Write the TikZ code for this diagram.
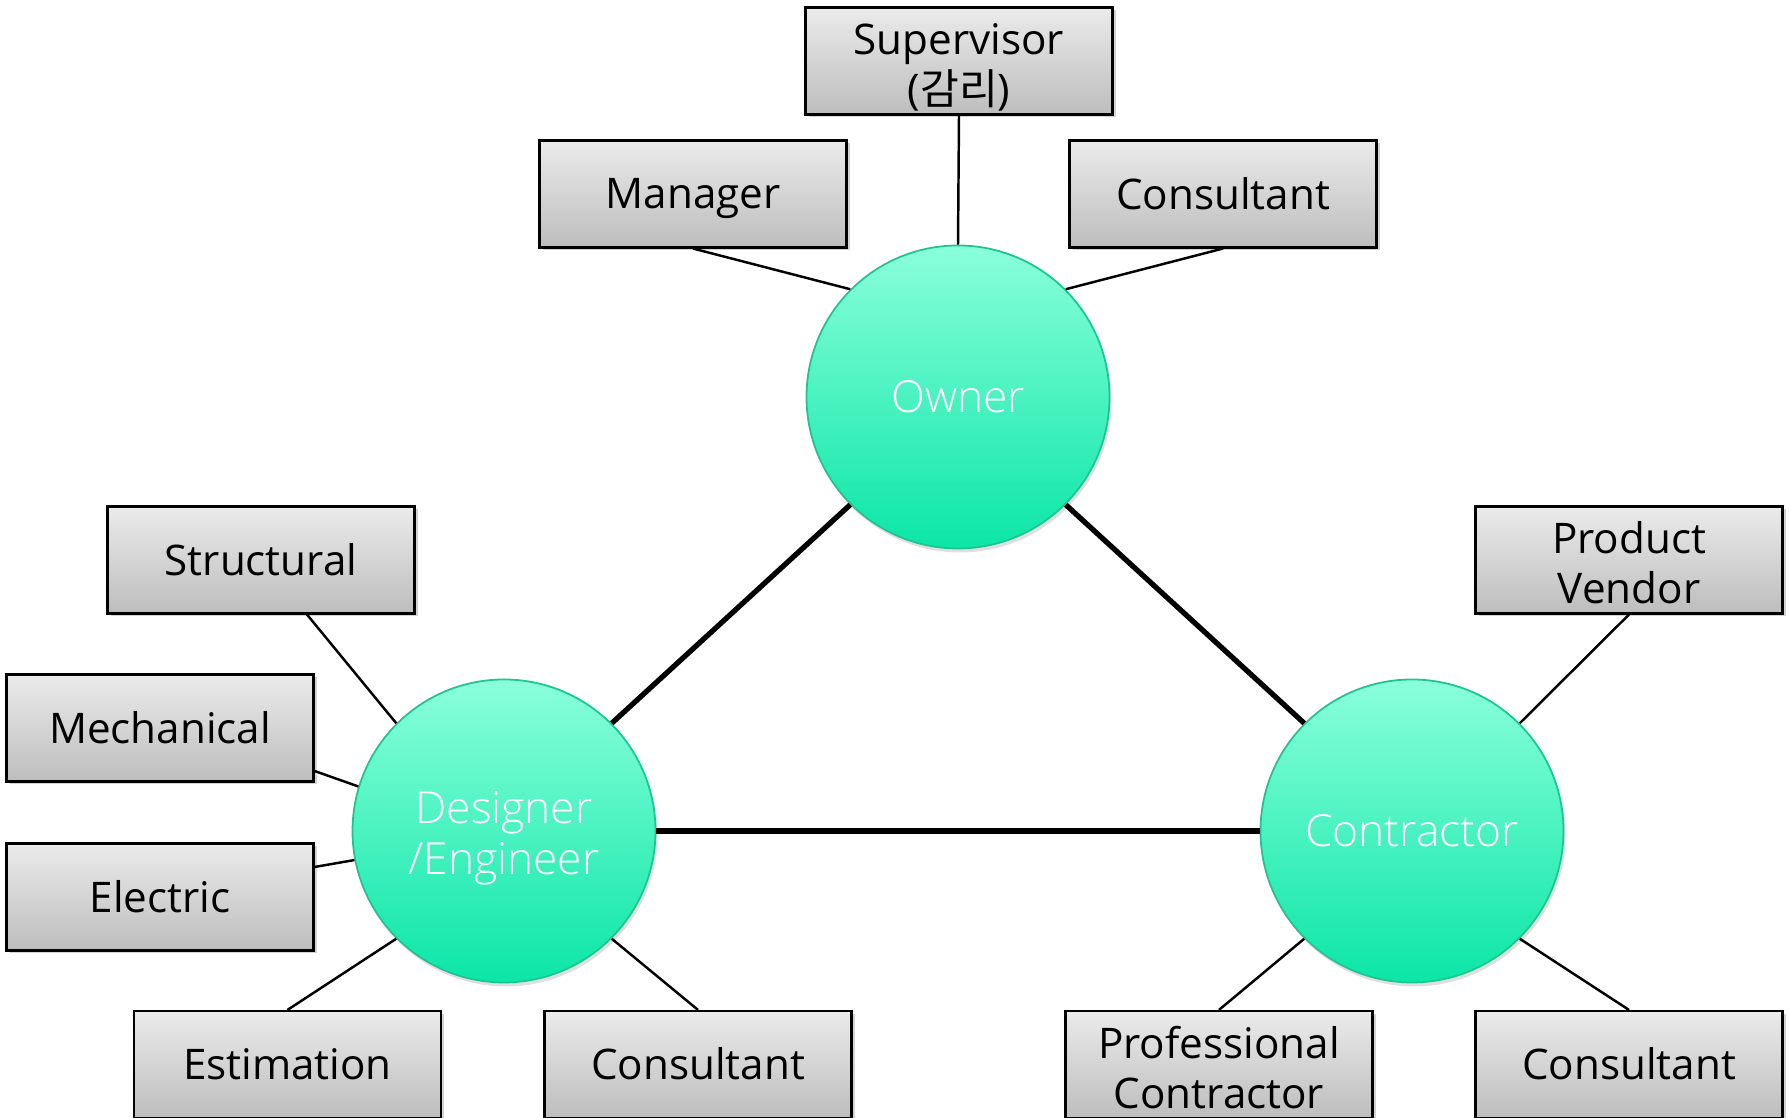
\documentclass[tikz,border=0pt]{standalone}
\usepackage{fontspec}
\setmainfont{Open Sans}
\newfontfamily\krfont{Noto Sans CJK KR}
\newfontfamily\lightfont{Open Sans Light}
\usetikzlibrary{shadows}
\definecolor{boxtop}{HTML}{EBEBEB}
\definecolor{boxbot}{HTML}{BDBDBD}
\definecolor{balltop}{HTML}{8AFFDA}
\definecolor{ballbot}{HTML}{0BE6A6}
\definecolor{ballrim}{HTML}{1FC493}
\newcommand\capstrut{\rule[-2.8pt]{0pt}{14.2pt}}
\newcommand\tallstrut{\rule{0pt}{13.4pt}}

\begin{document}
\begin{tikzpicture}[
  role/.style={draw=black, line width=0.6pt, top color=boxtop, bottom color=boxbot,
    minimum width=3.07cm, minimum height=1.07cm, inner xsep=0pt, inner ysep=-1pt, align=center,
    font=\fontsize{12}{14.2}\selectfont,
    execute at begin node=\capstrut, execute at end node=\capstrut,
    drop shadow={opacity=0.35, shadow xshift=0.03cm, shadow yshift=-0.03cm}},
  party/.style={circle, draw=ballrim, line width=0.5pt, top color=balltop, bottom color=ballbot,
    minimum size=3.03cm, inner sep=0pt, align=center, text=white,
    font=\lightfont\fontsize{12.6}{14.4}\selectfont,
    execute at begin node=\capstrut, execute at end node=\capstrut,
    drop shadow={opacity=0.25, shadow xshift=0.02cm, shadow yshift=-0.04cm}},
  tie/.style={line width=0.7pt},
  bond/.style={line width=1.5pt}]
\useasboundingbox (0,0) rectangle (17.89,11.18);
\node[party] (owner) at (9.58,7.21) {Owner};
\node[party] (designer) at (5.04,2.87) {\tallstrut Designer\\/Engineer};
\node[party] (contractor) at (14.12,2.87) {Contractor};
\node[role] (supervisor) at (9.59,10.57) {\tallstrut Supervisor\\({\krfont 감리})};
\node[role] (manager) at (6.93,9.24) {Manager};
\node[role] (consultantO) at (12.23,9.24) {Consultant};
\node[role] (structural) at (2.61,5.58) {Structural};
\node[role] (mechanical) at (1.60,3.90) {Mechanical};
\node[role] (electric) at (1.60,2.21) {Electric};
\node[role] (estimation) at (2.875,0.535) {Estimation};
\node[role] (consultantD) at (6.98,0.535) {Consultant};
\node[role] (vendor) at (16.29,5.58) {\tallstrut Product\\Vendor};
\node[role] (professional) at (12.19,0.535) {\tallstrut Professional\\Contractor};
\node[role] (consultantC) at (16.29,0.535) {Consultant};
\draw[tie] (manager.south) -- (owner.135);
\draw[tie] (supervisor.south) -- (owner.north);
\draw[tie] (consultantO.south) -- (owner.45);
\draw[bond] (owner.225) -- (designer.45);
\draw[bond] (owner.-45) -- (contractor.135);
\draw[bond] (designer.east) -- (contractor.west);
\draw[tie] ([xshift=0.46cm]structural.south) -- (designer.135);
\draw[tie] ([yshift=-0.43cm]mechanical.east) -- (designer.163);
\draw[tie] ([yshift=0.3cm]electric.east) -- (designer.191);
\draw[tie] (estimation.north) -- (designer.225);
\draw[tie] (consultantD.north) -- (designer.-45);
\draw[tie] (vendor.south) -- (contractor.45);
\draw[tie] (professional.north) -- (contractor.225);
\draw[tie] (consultantC.north) -- (contractor.-45);
\end{tikzpicture}
\end{document}
